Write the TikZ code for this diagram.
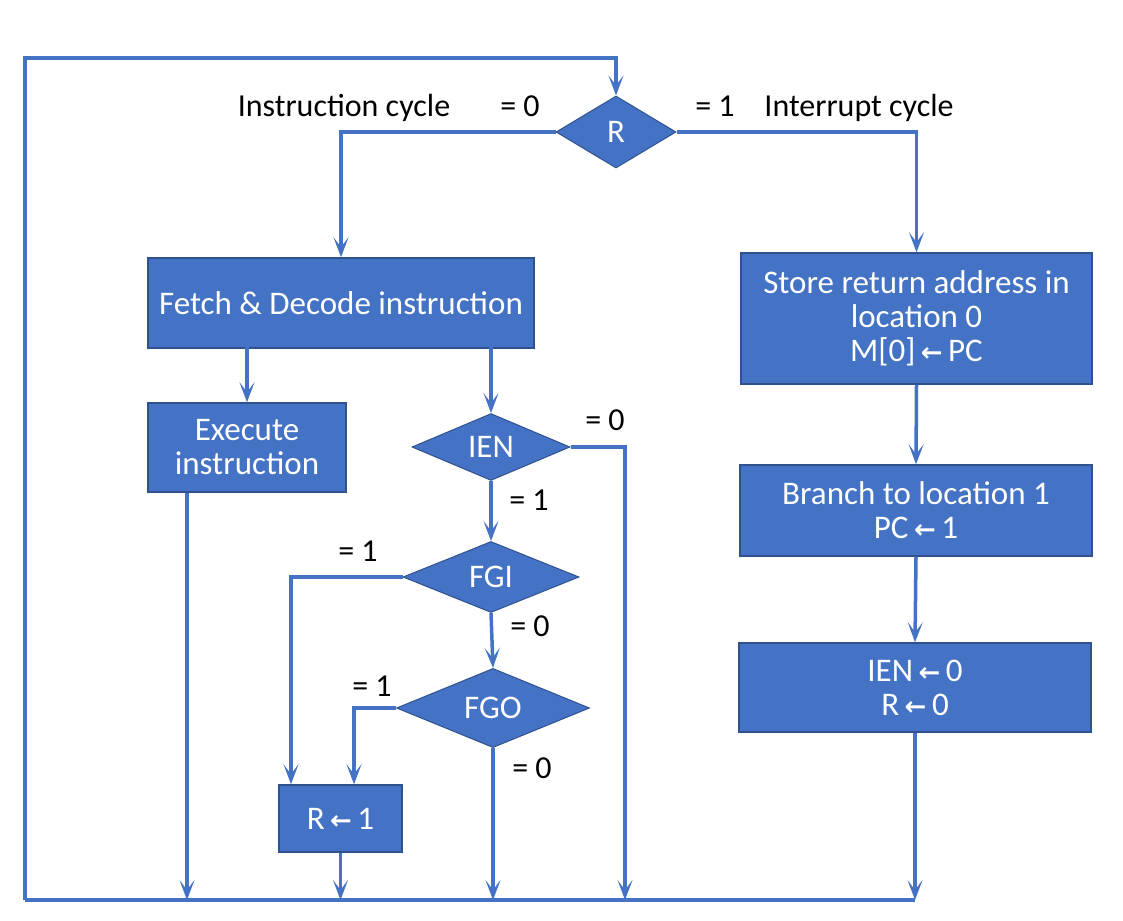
\documentclass[tikz,border=0pt]{standalone}
\usepackage{fontspec}
\setmainfont{Carlito}
\newfontfamily\symfont{DejaVu Sans Bold}
\usetikzlibrary{shapes.geometric,arrows.meta}
\definecolor{bfill}{HTML}{4472C4}
\definecolor{bdraw}{HTML}{2F528F}
\newcommand{\la}{\,{\symfont\fontsize{26}{26}\selectfont ←}\,}
\begin{document}
\begin{tikzpicture}[x=1pt,y=-1pt,
  box/.style={draw=bdraw,fill=bfill,line width=1.5pt,text=white,align=center,inner sep=0pt,
    font=\fontsize{33}{34}\selectfont},
  dia/.style={diamond,draw=bdraw,fill=bfill,line width=1pt,text=white,inner sep=0pt,
    font=\fontsize{33}{34}\selectfont},
  lab/.style={anchor=base,inner sep=0pt,font=\fontsize{32}{36}\selectfont},
  ln/.style={draw=bfill,line width=3.5pt},
  arr/.style={ln,-{Stealth[length=20pt,width=15pt,inset=10pt]}}]
\useasboundingbox (0,0) rectangle (1123,920);

% decisions
\node[dia,minimum width=120pt,minimum height=72pt] (R) at (616,132) {R};
\node[dia,minimum width=158pt,minimum height=66pt] (ien) at (491,447) {IEN};
\node[dia,minimum width=176pt,minimum height=71pt] (fgi) at (491,577) {FGI};
\node[dia,minimum width=193pt,minimum height=71pt] (fgo) at (493,708) {FGO};

% boxes
\node[box,minimum width=386pt,minimum height=90pt] (fetch) at (341,303) {Fetch \& Decode instruction};
\node[box,minimum width=198pt,minimum height=89pt] (exec) at (247,447.5) {Execute\\instruction};
\node[box,minimum width=123pt,minimum height=67pt] (r1) at (340.5,818.5) {R\la 1};
\node[box,minimum width=351pt,minimum height=131pt] (store) at (916.5,318.5) {Store return address in\\location 0\\M[0]\la PC};
\node[box,minimum width=352pt,minimum height=91pt] (branch) at (916,510.5) {Branch to location 1\\PC\la 1};
\node[box,minimum width=352pt,minimum height=89pt] (ienr) at (915,687.5) {IEN\la 0\\R\la 0};

% corner coordinates
\coordinate (bl) at (25,900);
\coordinate (tl) at (25,58);
\coordinate (ex) at (187,900);
\coordinate (iex) at (625,900);
\coordinate (fgix) at (291,0);
\coordinate (fgox) at (354,0);

% labels
\node[lab] at (344,117) {Instruction cycle};
\node[lab] at (520,117) {= 0};
\node[lab] at (715,117) {= 1};
\node[lab] at (859,117) {Interrupt cycle};
\node[lab] at (605,430) {= 0};
\node[lab] at (529,510) {= 1};
\node[lab] at (358,561) {= 1};
\node[lab] at (530,636) {= 0};
\node[lab] at (372,696) {= 1};
\node[lab] at (532,778) {= 0};

% connectors
\draw[arr] (R.west) -| (fetch.north);
\draw[arr] (R.east) -| (store.north);
\draw[arr] ([yshift=2pt]exec.north |- fetch.south) -- (exec.north);
\draw[arr] ([yshift=4pt]ien.north |- fetch.south) -- (ien.north);
\draw[arr] (ien.east) -| (iex);
\draw[arr] (ien.south) -- (fgi.north);
\draw[arr] (fgi.south) -- (fgo.north);
\draw[arr] (fgi.west) -| (fgix |- r1.north);
\draw[arr] (fgo.west) -| (fgox |- r1.north);
\draw[arr] (fgo.south) -- (fgo.south |- bl);
\draw[arr] (ex |- exec.south) -- (ex);
\draw[arr] (r1.south) -- (r1.south |- bl);
\draw[arr] (store.south) -- (branch.north);
\draw[arr] (branch.south) -- (ienr.north);
\draw[arr] (ienr.south) -- (ienr.south |- bl);
\draw[ln] (ienr.south |- bl) -- (bl);
\draw[arr] (bl) -- (tl) -| (R.north);
\end{tikzpicture}
\end{document}
